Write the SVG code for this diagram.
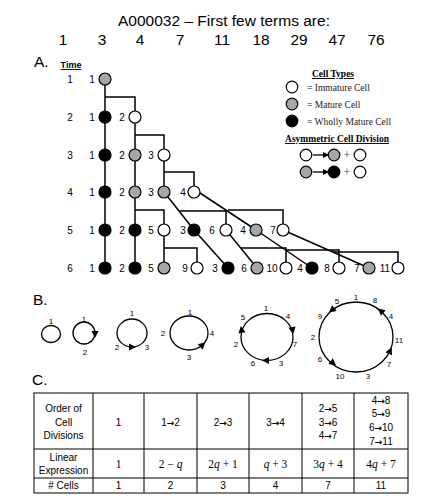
<svg xmlns="http://www.w3.org/2000/svg" xmlns:xlink="http://www.w3.org/1999/xlink" width="436" height="499" viewBox="0 0 436 499">
<style>
text{font-family:"Liberation Sans",Arial,sans-serif;fill:#000}
.h{font-size:15.5px}
.t{font-size:10px;text-anchor:middle}
.s{font-size:8px;text-anchor:middle}
.lg{font-family:"Liberation Serif","Times New Roman",serif;font-size:9.5px;fill:#222}
.lb{font-family:"Liberation Serif","Times New Roman",serif;font-size:9.5px;font-weight:bold;text-decoration:underline;text-anchor:middle}
.tb{font-size:10px;text-anchor:middle}
.ar{font-family:"DejaVu Sans",sans-serif;font-weight:bold;font-size:9px}
.m{font-family:"Liberation Serif","Times New Roman",serif;font-size:11.5px;text-anchor:middle}
.w{fill:#fff;stroke:#000;stroke-width:1.2}
.g{fill:#a6a6a6;stroke:#000;stroke-width:1.2}
.b{fill:#000;stroke:#000;stroke-width:1.2}
.ln{fill:none;stroke:#000;stroke-width:1.5}
.ring{fill:none;stroke:#000;stroke-width:1.3}
.grid{fill:none;stroke:#000;stroke-width:1}
</style>
<defs>
<path id="ah" d="M4,0 L-3,-3.6 L-3,3.6 Z" fill="#000"/>
<marker id="arr" markerWidth="6" markerHeight="6" refX="5" refY="3" orient="auto" markerUnits="userSpaceOnUse"><path d="M0,0 L6,3 L0,6 Z" fill="#000"/></marker>
</defs>
<rect width="436" height="499" fill="#fff"/>

<g id="title">
<text class="h" x="224" y="26" text-anchor="middle">A000032 – First few terms are:</text>
<text class="h" text-anchor="middle" y="45"><tspan x="63">1</tspan><tspan x="102">3</tspan><tspan x="140">4</tspan><tspan x="180">7</tspan><tspan x="222">11</tspan><tspan x="261">18</tspan><tspan x="299">29</tspan><tspan x="337">47</tspan><tspan x="376">76</tspan></text>
</g>

<text class="h" x="34" y="67">A.</text>
<text x="71" y="68" style="font-size:9px;font-weight:bold;text-decoration:underline" text-anchor="middle">Time</text>
<g id="time-labels">
<text class="t" x="70" y="83">1</text>
<text class="t" x="70" y="121">2</text>
<text class="t" x="70" y="159">3</text>
<text class="t" x="70" y="196">4</text>
<text class="t" x="70" y="234">5</text>
<text class="t" x="70" y="272">6</text>
</g>

<g id="connectors" class="ln">
<path d="M105,79 V268"/>
<path d="M105,97 H135 V268"/>
<path d="M135,135 H164 V192"/>
<path d="M164,172 H194 V192"/>
<path d="M135,210 H164 V268"/>
<path d="M164,192 L194,230 L228,268"/>
<path d="M179,211 H226 V230"/>
<path d="M197,191 L256,230"/>
<path d="M228,210 H283 V230"/>
<path d="M164,248 H197 V268"/>
<path d="M226,230 L257,268"/>
<path d="M241,248 H286 V268"/>
<path d="M256,230 L312,268"/>
<path d="M286,250 H339 V268"/>
<path d="M283,230 L369,268"/>
<path d="M333,252 H398 V268"/>
</g>

<g id="row1">
<text class="t" x="92" y="83">1</text><circle class="g" cx="105" cy="79" r="6"/>
</g>
<g id="row2">
<text class="t" x="92" y="121">1</text><circle class="b" cx="105" cy="117" r="6"/>
<text class="t" x="122" y="121">2</text><circle class="w" cx="135" cy="117" r="6"/>
</g>
<g id="row3">
<text class="t" x="92" y="159">1</text><circle class="b" cx="105" cy="155" r="6"/>
<text class="t" x="122" y="159">2</text><circle class="g" cx="135" cy="155" r="6"/>
<text class="t" x="151" y="159">3</text><circle class="w" cx="164" cy="155" r="6"/>
</g>
<g id="row4">
<text class="t" x="92" y="196">1</text><circle class="b" cx="105" cy="192" r="6"/>
<text class="t" x="122" y="196">2</text><circle class="g" cx="135" cy="192" r="6"/>
<text class="t" x="151" y="196">3</text><circle class="g" cx="164" cy="192" r="6"/>
<text class="t" x="183" y="196">4</text><circle class="w" cx="194" cy="192" r="6"/>
</g>
<g id="row5">
<text class="t" x="92" y="234">1</text><circle class="b" cx="105" cy="230" r="6"/>
<text class="t" x="122" y="234">2</text><circle class="b" cx="135" cy="230" r="6"/>
<text class="t" x="151" y="234">5</text><circle class="w" cx="164" cy="230" r="6"/>
<text class="t" x="183" y="234">3</text><circle class="b" cx="194" cy="230" r="6"/>
<text class="t" x="212" y="234">6</text><circle class="w" cx="226" cy="230" r="6"/>
<text class="t" x="243" y="234">4</text><circle class="g" cx="256" cy="230" r="6"/>
<text class="t" x="273" y="234">7</text><circle class="w" cx="283" cy="230" r="6"/>
</g>
<g id="row6">
<text class="t" x="92" y="272">1</text><circle class="b" cx="105" cy="268" r="6"/>
<text class="t" x="122" y="272">2</text><circle class="b" cx="135" cy="268" r="6"/>
<text class="t" x="151" y="272">5</text><circle class="g" cx="164" cy="268" r="6"/>
<text class="t" x="185" y="272">9</text><circle class="w" cx="197" cy="268" r="6"/>
<text class="t" x="215" y="272">3</text><circle class="b" cx="228" cy="268" r="6"/>
<text class="t" x="244" y="272">6</text><circle class="g" cx="257" cy="268" r="6"/>
<text class="t" x="272" y="272">10</text><circle class="w" cx="286" cy="268" r="6"/>
<text class="t" x="300" y="272">4</text><circle class="b" cx="312" cy="268" r="6"/>
<text class="t" x="327" y="272">8</text><circle class="w" cx="339" cy="268" r="6"/>
<text class="t" x="357" y="272">7</text><circle class="g" cx="369" cy="268" r="6"/>
<text class="t" x="385" y="272">11</text><circle class="w" cx="398" cy="268" r="6"/>
</g>

<g id="legend">
<text class="lb" x="333" y="77">Cell Types</text>
<circle class="w" cx="292" cy="87" r="5.8"/><text class="lg" x="307" y="90.5">= Immature Cell</text>
<circle class="g" cx="292" cy="104" r="5.8"/><text class="lg" x="307" y="107.5">= Mature Cell</text>
<circle class="b" cx="292" cy="121" r="5.8"/><text class="lg" x="307" y="124.5">= Wholly Mature Cell</text>
<text class="lb" x="337" y="142">Asymmetric Cell Division</text>
<circle class="w" cx="306" cy="155" r="5.8"/>
<line x1="313" y1="155" x2="328" y2="155" stroke="#000" stroke-width="1.3" marker-end="url(#arr)"/>
<circle class="g" cx="334" cy="155" r="5.8"/>
<text class="lg" x="347" y="159" text-anchor="middle" style="font-size:12px;fill:#444">+</text>
<circle class="w" cx="360" cy="155" r="5.8"/>
<circle class="g" cx="306" cy="172" r="5.8"/>
<line x1="313" y1="172" x2="328" y2="172" stroke="#000" stroke-width="1.3" marker-end="url(#arr)"/>
<circle class="b" cx="334" cy="172" r="5.8"/>
<text class="lg" x="347" y="176" text-anchor="middle" style="font-size:12px;fill:#444">+</text>
<circle class="w" cx="360" cy="172" r="5.8"/>
</g>

<text class="h" x="33" y="305">B.</text>
<g id="cycle1">
<ellipse class="ring" cx="51" cy="334" rx="9.5" ry="8.5"/>
<text class="s" x="51" y="324">1</text>
</g>
<g id="cycle2">
<circle class="ring" cx="84" cy="333" r="11"/>
<use xlink:href="#ah" transform="translate(95,334) rotate(90)"/>
<text class="s" x="84" y="322">1</text>
<text class="s" x="85" y="355">2</text>
</g>
<g id="cycle3">
<ellipse class="ring" cx="132" cy="333" rx="15" ry="14"/>
<use xlink:href="#ah" transform="translate(132,347) rotate(0)"/>
<text class="s" x="132" y="316">1</text>
<text class="s" x="117" y="350">2</text>
<text class="s" x="147" y="350">3</text>
</g>
<g id="cycle4">
<ellipse class="ring" cx="189" cy="333" rx="19" ry="17"/>
<use xlink:href="#ah" transform="translate(202.4,345) rotate(-42)"/>
<text class="s" x="190" y="315">1</text>
<text class="s" x="163" y="336">2</text>
<text class="s" x="212" y="336">4</text>
<text class="s" x="189" y="360">3</text>
</g>
<g id="cycle5">
<ellipse class="ring" cx="267" cy="337" rx="26" ry="23.5"/>
<use xlink:href="#ah" transform="translate(241.5,330) rotate(-100)"/>
<use xlink:href="#ah" transform="translate(292.5,330) rotate(80)"/>
<use xlink:href="#ah" transform="translate(266,360.5) rotate(180)"/>
<text class="s" x="266" y="311">1</text>
<text class="s" x="243" y="320">5</text>
<text class="s" x="288" y="319">4</text>
<text class="s" x="236" y="347">2</text>
<text class="s" x="295" y="347">7</text>
<text class="s" x="253" y="366">6</text>
<text class="s" x="281" y="366">3</text>
</g>
<g id="cycle6">
<ellipse class="ring" cx="356" cy="337" rx="37" ry="35"/>
<use xlink:href="#ah" transform="translate(332,310) rotate(141)"/>
<use xlink:href="#ah" transform="translate(381,311) rotate(-139)"/>
<use xlink:href="#ah" transform="translate(390,351) rotate(-65)"/>
<use xlink:href="#ah" transform="translate(333,363) rotate(38)"/>
<text class="s" x="356" y="300">1</text>
<text class="s" x="337" y="304">5</text>
<text class="s" x="375" y="303">8</text>
<text class="s" x="320" y="319">9</text>
<text class="s" x="391" y="319">4</text>
<text class="s" x="313" y="340">2</text>
<text class="s" x="399" y="343">11</text>
<text class="s" x="320" y="362">6</text>
<text class="s" x="389" y="367">7</text>
<text class="s" x="340" y="379">10</text>
<text class="s" x="368" y="379">3</text>
</g>

<text class="h" x="32" y="385">C.</text>
<g id="table">
<rect class="grid" x="34" y="393" width="374" height="100"/>
<path class="grid" d="M34,449 H408 M34,478 H408 M93,393 V493 M144,393 V493 M197,393 V493 M249,393 V493 M302,393 V493 M354,393 V493"/>
<text class="tb" x="63.5" y="412">Order of</text>
<text class="tb" x="63.5" y="425.5">Cell</text>
<text class="tb" x="63.5" y="439">Divisions</text>
<text class="tb" x="118.5" y="425.5">1</text>
<text class="tb" x="170.5" y="425.5">1<tspan class="ar">→</tspan>2</text>
<text class="tb" x="223" y="425.5">2<tspan class="ar">→</tspan>3</text>
<text class="tb" x="275.5" y="425.5">3<tspan class="ar">→</tspan>4</text>
<text class="tb" x="328" y="412">2<tspan class="ar">→</tspan>5</text>
<text class="tb" x="328" y="425.5">3<tspan class="ar">→</tspan>6</text>
<text class="tb" x="328" y="439">4<tspan class="ar">→</tspan>7</text>
<text class="tb" x="381" y="403.5">4<tspan class="ar">→</tspan>8</text>
<text class="tb" x="381" y="417">5<tspan class="ar">→</tspan>9</text>
<text class="tb" x="381" y="431">6<tspan class="ar">→</tspan>10</text>
<text class="tb" x="381" y="445">7<tspan class="ar">→</tspan>11</text>
<text class="tb" x="63.5" y="460.5">Linear</text>
<text class="tb" x="63.5" y="474">Expression</text>
<text class="m" x="118.5" y="468">1</text>
<text class="m" x="170.5" y="468">2 − <tspan font-style="italic">q</tspan></text>
<text class="m" x="223" y="468">2<tspan font-style="italic">q</tspan> + 1</text>
<text class="m" x="275.5" y="468"><tspan font-style="italic">q</tspan> + 3</text>
<text class="m" x="328" y="468">3<tspan font-style="italic">q</tspan> + 4</text>
<text class="m" x="381" y="468">4<tspan font-style="italic">q</tspan> + 7</text>
<text class="tb" x="63.5" y="489"># Cells</text>
<text class="tb" x="118.5" y="489">1</text>
<text class="tb" x="170.5" y="489">2</text>
<text class="tb" x="223" y="489">3</text>
<text class="tb" x="275.5" y="489">4</text>
<text class="tb" x="328" y="489">7</text>
<text class="tb" x="381" y="489">11</text>
</g>
</svg>
